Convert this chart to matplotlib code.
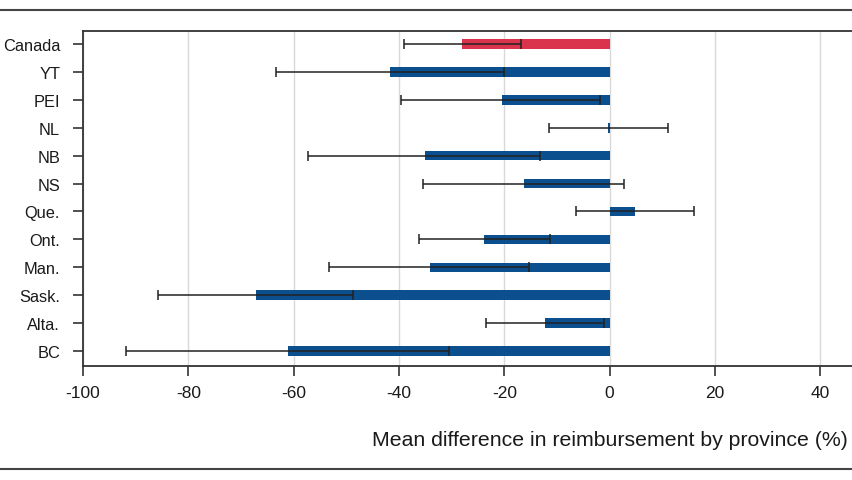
import matplotlib.pyplot as plt
from matplotlib.lines import Line2D

# provinces listed bottom to top
provinces = ['BC', 'Alta.', 'Sask.', 'Man.', 'Ont.', 'Que.', 'NS', 'NB', 'NL', 'PEI', 'YT', 'Canada']
mean_diff = [-61.1, -12.2, -67.2, -34.2, -23.9, 4.8, -16.3, -35.1, -0.3, -20.5, -41.7, -28.0]
ci_low = [-91.8, -23.4, -85.7, -53.2, -36.2, -6.4, -35.4, -57.2, -11.6, -39.7, -63.4, -39.1]
ci_high = [-30.5, -1.1, -48.8, -15.4, -11.4, 16.0, 2.7, -13.2, 11.0, -1.8, -20.1, -16.9]
xticks = [-100, -80, -60, -40, -20, 0, 20, 40]

blue = '#0b4f8e'
red = '#d9344b'
colors = [red if p == 'Canada' else blue for p in provinces]

plt.rcParams['font.family'] = ['Liberation Sans', 'DejaVu Sans']

fig = plt.figure(figsize=(8.53, 4.81), dpi=100)
ax = fig.add_axes([83 / 853, 1 - 367 / 481, 790 / 853, 335 / 481])

ypos = list(range(len(provinces)))
ax.barh(ypos, mean_diff, left=0, height=0.34, color=colors, zorder=2)
err_lo = [m - lo for m, lo in zip(mean_diff, ci_low)]
err_hi = [hi - m for m, hi in zip(mean_diff, ci_high)]
ax.errorbar(mean_diff, ypos, xerr=[err_lo, err_hi], fmt='none', ecolor='#222222',
            elinewidth=1.1, capsize=3.6, capthick=1.1, zorder=3)

ax.set_xlim(-100, 50)
ax.set_ylim(-0.54, len(provinces) - 1 + 0.47)
ax.set_xticks(xticks)
ax.set_xticklabels([str(t) for t in xticks])
ax.set_yticks(ypos)
ax.set_yticklabels(provinces)
ax.grid(axis='x', color='#d9d9d9', linewidth=1, zorder=0)
ax.set_axisbelow(True)

for s in ['left', 'top', 'bottom']:
    ax.spines[s].set_color('#333333')
    ax.spines[s].set_linewidth(1.3)
ax.spines['right'].set_visible(False)
ax.tick_params(axis='both', length=7.5, width=1.2, color='#333333', labelsize=12.5,
               labelcolor='#1a1a1a')
ax.tick_params(axis='y', pad=9, labelsize=11.8)
ax.tick_params(axis='x', pad=6)

fig.text(848 / 853, 1 - 440 / 481, 'Mean difference in reimbursement by province (%)',
         ha='right', va='center', fontsize=15.3, color='#1a1a1a')

fig.add_artist(Line2D([0, 1], [1 - 11 / 481, 1 - 11 / 481], color='#444444', linewidth=1.5))
fig.add_artist(Line2D([0, 1], [1 - 470 / 481, 1 - 470 / 481], color='#444444', linewidth=1.5))

fig.savefig('out.png', dpi=100)
